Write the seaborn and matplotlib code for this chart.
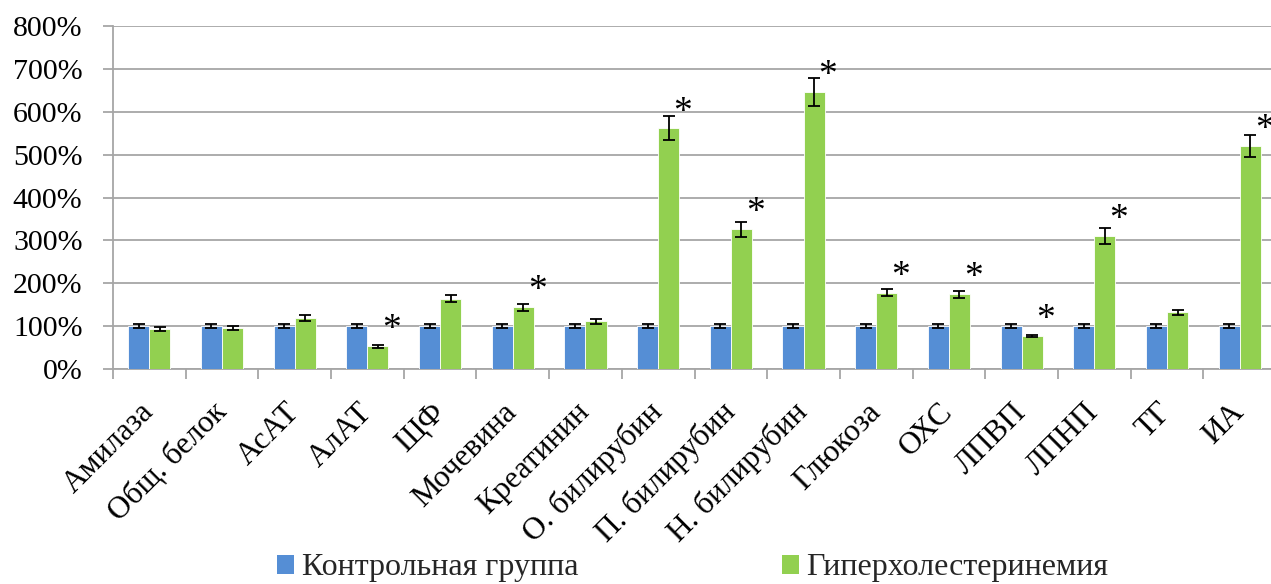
import matplotlib
matplotlib.use("Agg")
import matplotlib.pyplot as plt
from matplotlib.patches import Patch
from matplotlib.ticker import PercentFormatter, FixedLocator
import numpy as np
import pandas as pd
import seaborn as sns

categories = ["Амилаза", "Общ. белок", "АсАТ", "АлАТ", "ЩФ", "Мочевина", "Креатинин",
              "О. билирубин", "П. билирубин", "Н. билирубин", "Глюкоза", "ОХС",
              "ЛПВП", "ЛПНП", "ТГ", "ИА"]
groups = ["Контрольная группа", "Гиперхолестеринемия"]
control = [100, 100, 100, 100, 100, 100, 100, 100, 100, 100, 100, 100, 100, 100, 100, 100]
control_err = [4, 4, 4, 4, 4, 4, 4, 4, 4, 4, 4, 4, 4, 4, 4, 4]
hyper = [93, 96, 119, 53, 164, 144, 111, 561, 326, 646, 178, 174, 77, 310, 132, 520]
hyper_err = [4, 4, 6, 3, 8, 8, 5, 28, 17, 32, 8, 8, 3, 18, 6, 26]
significant = [False, False, False, True, False, True, False, True, True, True,
               True, True, True, True, False, True]

sns.set_theme(style="white")
plt.rcParams["font.family"] = "serif"
plt.rcParams["font.serif"] = ["Liberation Serif", "DejaVu Serif"]
plt.rcParams["font.size"] = 21.5

colors = ["#558ED5", "#92D050"]
grid_color = "#A6A6A6"
fs = 21.5
fs_cat = 22.5
fs_leg = 23

df = pd.DataFrame({
    "category": categories * 2,
    "group": [groups[0]] * len(categories) + [groups[1]] * len(categories),
    "value": control + hyper,
})

fig = plt.figure(figsize=(12.71, 5.84), dpi=100)
ax = fig.add_axes([113 / 1271, (584 - 369) / 584, (1276 - 113) / 1271, 343 / 584])

sns.barplot(data=df, x="category", y="value", hue="group", order=categories,
            hue_order=groups, palette=colors, saturation=1, width=0.58, errorbar=None,
            edgecolor="white", linewidth=0.6, legend=False, ax=ax, zorder=3)

# error bars at the centres of the drawn bars
n = len(categories)
ctrl_bars = list(ax.patches[:n])
hyp_bars = list(ax.patches[n:2 * n])
for blist, v, e in ((ctrl_bars, control, control_err), (hyp_bars, hyper, hyper_err)):
    xs = [b.get_x() + b.get_width() / 2 for b in blist]
    ax.errorbar(xs, v, yerr=e, fmt="none", ecolor="black", elinewidth=1.3,
                capsize=4, capthick=1.3, zorder=4)

# significance markers
for b, v, s in zip(hyp_bars, hyper, significant):
    if s:
        xc = b.get_x() + b.get_width() / 2
        ax.annotate("*", xy=(xc, v), xytext=(10, 5), textcoords="offset points",
                    ha="center", va="baseline", fontsize=27, color="black", zorder=5)

ax.set_ylim(0, 800)
ax.set_xlim(-0.5, len(categories) - 0.5)
ax.set_yticks(np.arange(0, 801, 100))
ax.yaxis.set_major_formatter(PercentFormatter(100, decimals=0))
ax.yaxis.grid(True, color=grid_color, linewidth=1.3, zorder=0)
ax.set_axisbelow(True)
ax.set_xlabel("")
ax.set_ylabel("")

for side in ("top", "right"):
    ax.spines[side].set_visible(False)
for side in ("left", "bottom"):
    ax.spines[side].set_color(grid_color)
    ax.spines[side].set_linewidth(1.3)

ax.tick_params(axis="y", which="major", direction="out", length=7, width=1.3,
               color=grid_color, left=True, pad=15, labelsize=fs, labelcolor="black")
ax.tick_params(axis="x", which="major", length=0, pad=28, labelsize=fs_cat,
               labelcolor="black")
ax.xaxis.set_minor_locator(FixedLocator(np.arange(-0.5, len(categories), 1.0)))
ax.tick_params(axis="x", which="minor", direction="out", length=7, width=1.3,
               color=grid_color, bottom=True)
for lab in ax.get_xticklabels():
    lab.set_rotation(45)
    lab.set_ha("right")
    lab.set_va("center")
    lab.set_rotation_mode("anchor")

handles = [Patch(facecolor=c, edgecolor="none") for c in colors]
fig.legend(handles, groups, loc="center left", bbox_to_anchor=(277 / 1271, 16 / 584),
           ncol=2, frameon=False, prop={"family": "Liberation Serif", "size": fs_leg},
           handlelength=0.53, handleheight=0.53, handletextpad=0.25,
           columnspacing=6.36, borderpad=0, borderaxespad=0)

fig.savefig("out.png", dpi=100)
